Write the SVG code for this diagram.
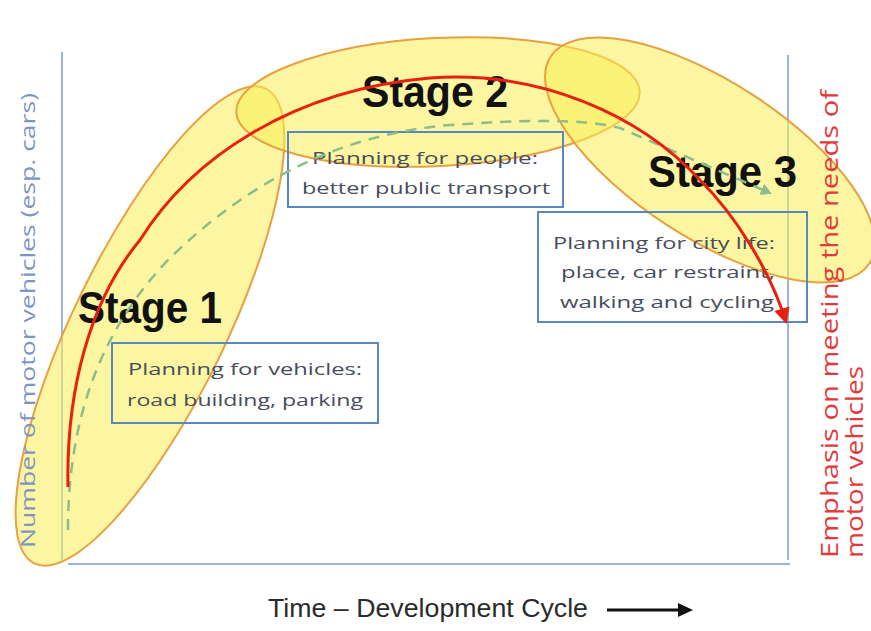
<svg xmlns="http://www.w3.org/2000/svg" width="871" height="631" viewBox="0 0 871 631">
<defs>
<style>
.ell{fill:#f9ee55;fill-opacity:0.55;stroke:#e8a040;stroke-width:2}
.axis{stroke:#9bb5dc;stroke-width:2;fill:none}
.box{fill:none;stroke:#5b87c0;stroke-width:2}
.btxt{font-family:"Open Sans","Liberation Sans",sans-serif;font-size:17px;fill:#474d5a;text-anchor:middle}
.stage{font-family:"Liberation Sans",Arial,sans-serif;font-weight:bold;font-size:45px;fill:#111}
.red{fill:none;stroke:#e8200f;stroke-width:3}
.green{fill:none;stroke:#8dbd8a;stroke-width:2.5;stroke-dasharray:11 8}
</style>
<marker id="ra" markerUnits="userSpaceOnUse" markerWidth="18" markerHeight="16" refX="14" refY="8" orient="auto">
<path d="M0,0 L16,8 L0,16 z" fill="#e8200f"/>
</marker>
<marker id="ga" markerUnits="userSpaceOnUse" markerWidth="12" markerHeight="12" refX="9" refY="6" orient="auto">
<path d="M0,0 L11,6 L0,12 z" fill="#8dbd8a"/>
</marker>
</defs>
<rect width="871" height="631" fill="#ffffff"/>
<g id="axes">
<line class="axis" x1="62" y1="52" x2="62" y2="560"/>
<line class="axis" x1="68" y1="564" x2="790" y2="564"/>
<line class="axis" x1="788" y1="55" x2="788" y2="560"/>
</g>
<g id="ellipses">
<ellipse id="stage1-ellipse" class="ell" cx="150" cy="326" rx="264" ry="76" transform="rotate(-64 150 326)"/>
<ellipse id="stage2-ellipse" class="ell" cx="438" cy="102" rx="202" ry="64" transform="rotate(-3 438 102)"/>
<ellipse id="stage3-ellipse" class="ell" cx="710" cy="160" rx="190" ry="78" transform="rotate(33 710 160)"/>
</g>
<g id="axis-labels">
<text transform="translate(35,548) rotate(-90)" font-family="Open Sans, Liberation Sans, sans-serif" font-size="20" fill="#7d95c4" textLength="455" lengthAdjust="spacingAndGlyphs">Number of motor vehicles (esp. cars)</text>
<text transform="translate(838,558) rotate(-90)" font-family="Open Sans, Liberation Sans, sans-serif" font-size="23" fill="#e23a3a" textLength="468" lengthAdjust="spacingAndGlyphs">Emphasis on meeting the needs of</text>
<text transform="translate(863,558) rotate(-90)" font-family="Open Sans, Liberation Sans, sans-serif" font-size="23" fill="#e23a3a" textLength="192" lengthAdjust="spacingAndGlyphs">motor vehicles</text>
<text x="268" y="617" font-family="Liberation Sans, Arial, sans-serif" font-size="25" fill="#2a2a2a" textLength="320" lengthAdjust="spacingAndGlyphs">Time – Development Cycle</text>
<line x1="607" y1="610" x2="680" y2="610" stroke="#111" stroke-width="3"/>
<path d="M678,603 L693,610 L678,617 z" fill="#111"/>
</g>
<g id="stage1">
<rect class="box" x="112" y="343" width="266" height="80"/>
<text class="btxt" x="245" y="375" textLength="234" lengthAdjust="spacingAndGlyphs">Planning for vehicles:</text>
<text class="btxt" x="245" y="406" textLength="236" lengthAdjust="spacingAndGlyphs">road building, parking</text>
<text class="stage" x="78" y="323" textLength="144" lengthAdjust="spacingAndGlyphs">Stage 1</text>
</g>
<g id="stage2">
<rect class="box" x="288" y="132" width="275" height="75"/>
<text class="btxt" x="425" y="164" textLength="226" lengthAdjust="spacingAndGlyphs">Planning for people:</text>
<text class="btxt" x="426" y="194" textLength="248" lengthAdjust="spacingAndGlyphs">better public transport</text>
<text class="stage" x="362" y="107" textLength="146" lengthAdjust="spacingAndGlyphs">Stage 2</text>
</g>
<g id="stage3">
<rect class="box" x="538" y="212" width="269" height="110"/>
<text class="btxt" x="664" y="249" textLength="222" lengthAdjust="spacingAndGlyphs">Planning for city life:</text>
<text class="btxt" x="668" y="278" textLength="214" lengthAdjust="spacingAndGlyphs">place, car restraint,</text>
<text class="btxt" x="667" y="308" textLength="214" lengthAdjust="spacingAndGlyphs">walking and cycling</text>
<text class="stage" x="648" y="187" textLength="149" lengthAdjust="spacingAndGlyphs">Stage 3</text>
</g>
<g id="connectors">
<path class="green" d="M68,530 C68,420 100,330 170,258 C240,190 330,135 450,125 C520,120 580,118 620,128 L770,193" marker-end="url(#ga)"/>
<path class="red" d="M68,487 C66,390 90,300 140,240 C190,160 290,90 430,78 C540,70 640,115 700,180 C735,215 770,270 786,322" marker-end="url(#ra)"/>
</g>
</svg>
